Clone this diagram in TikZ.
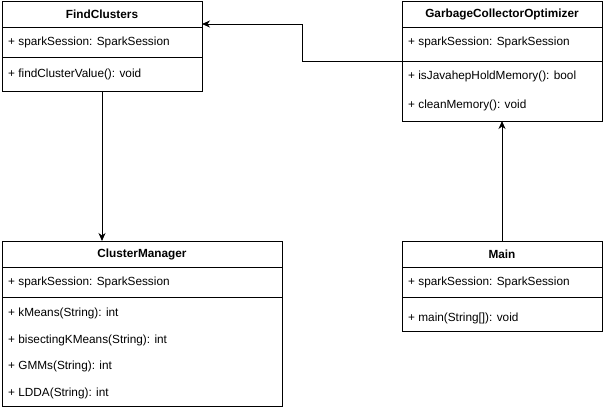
\documentclass[tikz,border=0pt]{standalone}
\usepackage{fontspec}
\setmainfont{Liberation Sans}
\usetikzlibrary{arrows.meta}
\tikzset{
  x=1pt, y=-1pt,
  classbox/.style={draw=black, line width=1pt, fill=white, rectangle, anchor=north west, inner sep=0pt, outer sep=0pt},
  sepline/.style={draw=black, line width=1pt},
  header/.style={font=\fontsize{11.8}{14}\selectfont\bfseries, inner sep=0pt, anchor=center},
  member/.style={font=\fontsize{11.8}{14}\selectfont, inner sep=0pt, anchor=west},
  conn/.style={draw=black, line width=1pt, -{Stealth[length=8pt,width=7pt,inset=2.5pt]}},
}
\begin{document}
\begin{tikzpicture}
\useasboundingbox[fill=white] (0,0) rectangle (603,410);

% FindClusters
\node[classbox, minimum width=200pt, minimum height=90pt] (fc) at (2,1) {};
\node[header] (fch) at (102,14) {FindClusters};
\draw[sepline] (2,27) -- (202,27);
\node[member] (fca) at (8,42) {+ sparkSession: SparkSession};
\draw[sepline] (2,57) -- (202,57);
\node[member] (fcm) at (8,74) {+ findClusterValue(): void};

% GarbageCollectorOptimizer
\node[classbox, minimum width=200pt, minimum height=120pt] (gco) at (402,1) {};
\node[header] (gcoh) at (502,14) {GarbageCollectorOptimizer};
\draw[sepline] (402,27) -- (602,27);
\node[member] (gcoa) at (408,42) {+ sparkSession: SparkSession};
\coordinate (gcosep) at (402,61);
\draw[sepline] (gcosep) -- (602,61);
\node[member] (gcom1) at (408,76) {+ isJavahepHoldMemory(): bool};
\node[member] (gcom2) at (408,105) {+ cleanMemory(): void};

% ClusterManager
\node[classbox, minimum width=280pt, minimum height=165pt] (cm) at (2,241) {};
\node[header] (cmh) at (142,254) {ClusterManager};
\draw[sepline] (2,267) -- (282,267);
\node[member] (cma) at (8,282) {+ sparkSession: SparkSession};
\draw[sepline] (2,297) -- (282,297);
\node[member] (cm1) at (8,313) {+ kMeans(String): int};
\node[member] (cm2) at (8,340) {+ bisectingKMeans(String): int};
\node[member] (cm3) at (8,366.5) {+ GMMs(String): int};
\node[member] (cm4) at (8,393) {+ LDDA(String): int};

% Main
\node[classbox, minimum width=200pt, minimum height=90pt] (mn) at (402,241) {};
\node[header] (mnh) at (502,254) {Main};
\draw[sepline] (402,267) -- (602,267);
\node[member] (mna) at (408,282) {+ sparkSession: SparkSession};
\draw[sepline] (402,297) -- (602,297);
\node[member] (mnm) at (408,318) {+ main(String[]): void};

% connectors
\coordinate (fcin) at ([yshift=-23pt]fc.north east);
\coordinate (bend) at (302,24);
\draw[conn] (gcosep) -| (bend) -- (fcin);
\draw[conn] (fc.south) -- (fc.south |- cm.north);
\draw[conn] (mn.north) -- (gco.south);
\end{tikzpicture}
\end{document}
